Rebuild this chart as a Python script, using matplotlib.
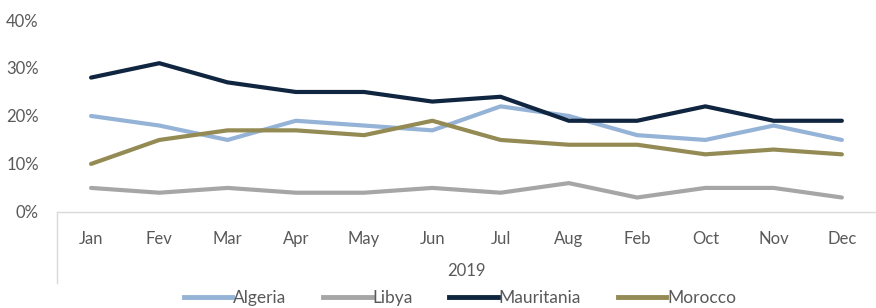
import matplotlib.pyplot as plt
from matplotlib.lines import Line2D

months = ['Jan', 'Fev', 'Mar', 'Apr', 'May', 'Jun', 'Jul', 'Aug', 'Feb', 'Oct', 'Nov', 'Dec']
year_label = '2019'
algeria = [20, 18, 15, 19, 18, 17, 22, 20, 16, 15, 18, 15]
libya = [5, 4, 5, 4, 4, 5, 4, 6, 3, 5, 5, 3]
mauritania = [28, 31, 27, 25, 25, 23, 24, 19, 19, 22, 19, 19]
morocco = [10, 15, 17, 17, 16, 19, 15, 14, 14, 12, 13, 12]

series = [('Algeria', algeria, '#95B3D7'),
          ('Libya', libya, '#A6A6A6'),
          ('Mauritania', mauritania, '#10253F'),
          ('Morocco', morocco, '#948A54')]

plt.rcParams['font.family'] = ['Lato', 'DejaVu Sans']
txt = '#595959'

fig = plt.figure(figsize=(8.76, 3.08), dpi=100)
ax = fig.add_axes([0.065, 0.312, 0.935, 0.623])

x = list(range(len(months)))
for name, vals, col in series:
    ax.plot(x, [v / 100 for v in vals], color=col, lw=3, label=name, solid_capstyle='round')

ax.set_xlim(-0.5, len(months) - 0.5)
ax.set_ylim(0, 0.4)
ax.set_yticks([0, 0.1, 0.2, 0.3, 0.4])
ax.set_yticklabels(['0%', '10%', '20%', '30%', '40%'])
ax.tick_params(axis='y', length=0, colors=txt, labelsize=12, pad=13)
ax.set_xticks(x)
ax.set_xticklabels(months)
ax.tick_params(axis='x', length=0, colors=txt, labelsize=12, pad=14)

for s in ['top', 'right', 'left']:
    ax.spines[s].set_visible(False)
ax.spines['bottom'].set_color('#D9D9D9')
ax.spines['bottom'].set_linewidth(1)

# year group label and left bracket line
fig.text(0.5 * (0.065 + 1.0), 1 - 271 / 308, year_label, ha='center', va='center',
         color=txt, fontsize=12)
fig.add_artist(Line2D([0.065, 0.065], [0.312, 1 - 283 / 308], color='#D9D9D9', lw=1))

handles = [Line2D([0], [0], color=c, lw=3.5) for _, _, c in series]
fig.legend(handles, [n for n, _, _ in series], loc='center', bbox_to_anchor=(0.525, 1 - 298 / 308),
           ncol=4, frameon=False, fontsize=12.5, handlelength=2.8, columnspacing=2.1,
           handletextpad=0.05, labelcolor=txt)

fig.savefig('out.png', dpi=100)
